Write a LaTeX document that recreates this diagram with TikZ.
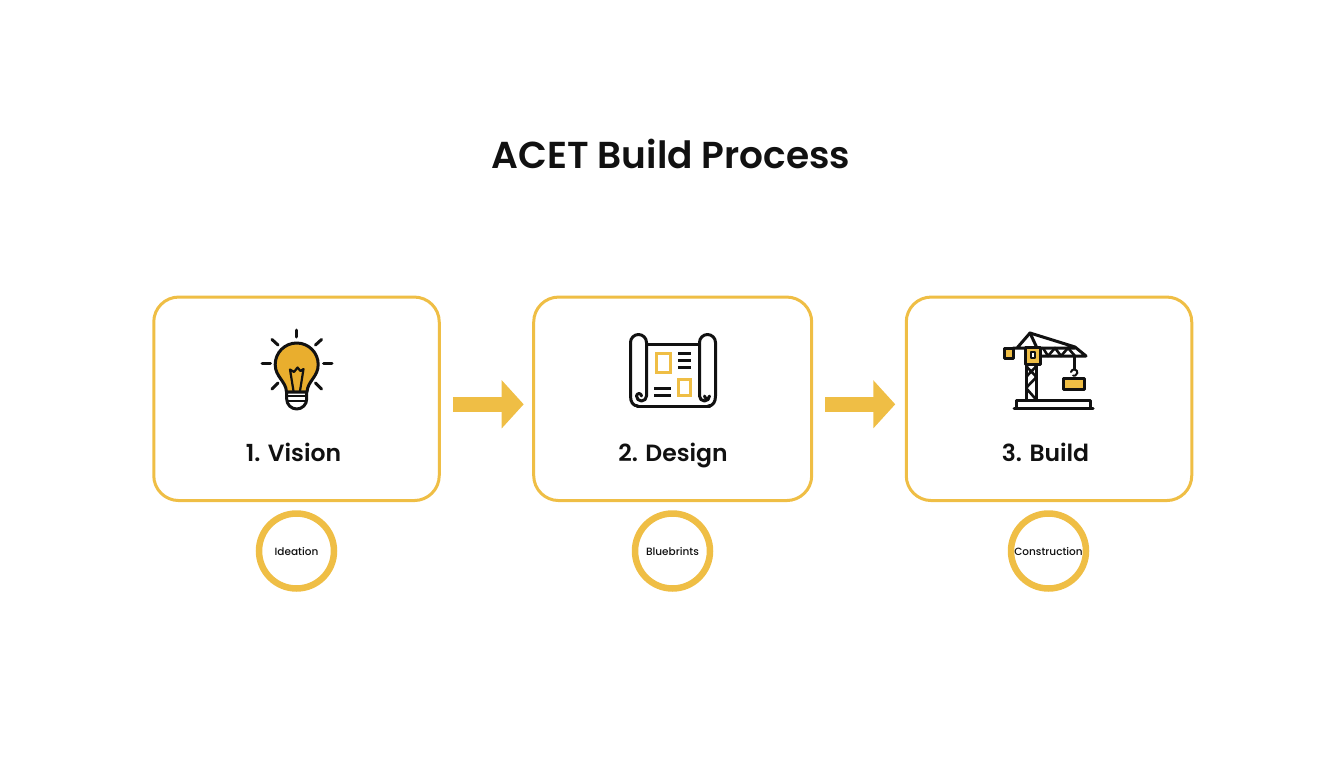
\documentclass[tikz,border=0pt]{standalone}
\usepackage{fontspec}
\setmainfont{Poppins}
\newfontfamily\ttlfont{Poppins SemiBold}
\newfontfamily\lblfont{Poppins Medium}
\usetikzlibrary{arrows.meta,calc}
\definecolor{gold}{HTML}{EFBE45}
\definecolor{bulbfill}{HTML}{E9AE2E}
\definecolor{ink}{HTML}{111111}
\tikzset{
  stagebox/.style={draw=gold,line width=3pt,rounded corners=25pt,fill=white,minimum width=285.5pt,minimum height=203.5pt,outer sep=0pt,inner sep=0pt},
  flow/.style={draw=gold,line width=15pt,-{Triangle[length=22pt,width=47pt]}},
  tagring/.style={circle,draw=gold,line width=6.5pt,fill=white,minimum size=75pt,inner sep=0pt,outer sep=0pt,font=\lblfont\fontsize{10.5}{13}\selectfont,text=ink},
  stagelabel/.style={font=\ttlfont\fontsize{23.5}{27}\selectfont,text=ink,inner sep=0pt,anchor=base},
  ic/.style={draw=ink,line width=3pt,line cap=round,line join=round},
  icy/.style={draw=gold,line width=3.2pt,line join=miter},
}
\begin{document}
\begin{tikzpicture}[x=1pt,y=-1pt]
\useasboundingbox (0,0) rectangle (1344,768);
\node[font=\ttlfont\fontsize{37.5}{44}\selectfont,text=ink,inner sep=0pt] (title) at (671,154) {ACET Build Process};
\node[stagebox] (box1) at (296.5,398.8) {};
\node[stagebox,minimum width=278pt] (box2) at (672.7,398.8) {};
\node[stagebox] (box3) at (1049,398.8) {};
\node[stagelabel] (l1) at (293.5,461) {1. Vision};
\node[stagelabel] (l2) at (673,461) {2. Design};
\node[stagelabel] (l3) at (1045.5,461) {3. Build};
\draw[flow] ([xshift=13.5pt,yshift=-5.5pt]box1.east) -- ([xshift=-10pt,yshift=-5.5pt]box2.west);
\draw[flow] ([xshift=13.5pt,yshift=-5.5pt]box2.east) -- ([xshift=-11pt,yshift=-5.5pt]box3.west);
\node[tagring] (t1) at (296.5,551) {Ideation};
\node[tagring] (t2) at (672.5,551) {Bluebrints};
\node[tagring] (t3) at (1048.5,551) {Construction};
% bulb
\draw[ic,fill=bulbfill] (286.5,392) .. controls (286,381) and (275.2,377) .. (275.2,364.5) arc[start angle=180,end angle=0,radius=21.5pt] .. controls (318.2,377) and (307.5,381) .. (307,392) -- cycle;
\draw[ic,line width=2.2pt] (293.5,391) -- (290,369.5) -- (294,372) -- (297.5,367.5) -- (300.5,371) -- (303.5,369) -- (300,391);
\draw[ic,fill=white] (286.7,392) -- (306.7,392) -- (306.7,399) arc[start angle=0,end angle=-180,radius=10pt] -- cycle;
\draw[ic,line width=2.2pt] (287,396) -- (306.5,396) (288,401) -- (305.5,401);
\foreach \a/\b/\c/\d in {296.7/330/296.7/337, 262/363.7/270.5/363.7, 323.5/363.7/332/363.7, 272/339.5/278/345, 321.5/339.5/315.5/345, 272/389/278/383, 321.5/389/315.5/383}
  \draw[ic] (\a,\b) -- (\c,\d);
% blueprint
\draw[ic] (647,344) -- (699,344);
\draw[ic] (637,406) -- (710,406);
\draw[ic] (630.5,396) -- (630.5,342.5) arc[start angle=180,end angle=0,radius=8pt] -- (646.5,396) arc[start angle=0,end angle=-180,radius=5pt] arc[start angle=180,end angle=0,radius=2.5pt];
\draw[ic] (630.5,396) .. controls (630.5,402) and (633,406) .. (638,406);
\draw[ic] (715.5,396) -- (715.5,342.5) arc[start angle=0,end angle=180,radius=8pt] -- (699.5,396) arc[start angle=180,end angle=360,radius=5pt] arc[start angle=0,end angle=-180,radius=2.5pt];
\draw[ic] (715.5,396) .. controls (715.5,402) and (713,406) .. (708,406);
\draw[icy] (656.5,353.5) rectangle (670.5,372.5);
\draw[icy] (678.5,379.5) rectangle (690.5,395.5);
\foreach \yy in {353.5,360,367} \draw[ic,line cap=butt] (678,\yy) -- (691,\yy);
\foreach \yy in {388.5,395} \draw[ic,line cap=butt] (654,\yy) -- (671,\yy);
% crane
\draw[ic] (1026,400) -- (1026,362) (1036.5,400) -- (1036.5,362);
\draw[ic,line width=2.6pt] (1026,366) -- (1036.5,377) -- (1026,388) -- (1036.5,400) (1036.5,366) -- (1026,377);
\draw[ic] (1013,348) -- (1075,348) (1040,356) -- (1086,356) -- (1075,347) -- (1030,333) -- (1017,348);
\draw[ic] (1030,333) -- (1037,348);
\draw[ic,line width=2.6pt] (1043,348) -- (1048,356) -- (1055,348) -- (1061,356) -- (1068,348) -- (1075,356);
\draw[ic,fill=gold] (1025,347) rectangle (1040,364);
\draw[ic,line width=1.6pt,fill=white] (1031,352) rectangle (1035,358);
\draw[ic,fill=gold] (1004,348) rectangle (1013,358);
\draw[ic] (1074,356) -- (1074,369);
\draw[ic,line width=2pt] (1071,372) arc[start angle=170,end angle=-110,radius=3.2pt];
\draw[ic,fill=gold] (1063.5,378) rectangle (1084.5,389);
\draw[ic,line cap=butt] (1016.5,408) -- (1016.5,400.5) -- (1090.5,400.5) -- (1090.5,408);
\draw[ic] (1014,408) -- (1093,408);
\end{tikzpicture}
\end{document}
